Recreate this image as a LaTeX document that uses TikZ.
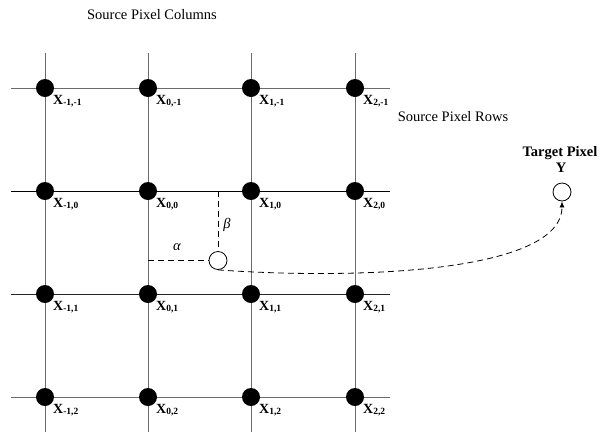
\documentclass[tikz,border=0pt]{standalone}
\usepackage{fontspec}
\setmainfont{Liberation Serif}
\usetikzlibrary{arrows.meta}
\begin{document}
\begin{tikzpicture}[x=1pt,y=-1pt,
  dot/.style={circle,fill=black,minimum size=18pt,inner sep=0pt},
  hole/.style={circle,draw=black,fill=white,minimum size=18pt,inner sep=0pt,line width=0.8pt},
  gridv/.style={draw=black!58,line width=1pt},
  gridh/.style={line width=1pt},
  dsh/.style={draw=black,line width=0.8pt,dash pattern=on 6pt off 4pt},
  lab/.style={inner sep=0pt,anchor=base west,font=\fontsize{14}{14}\selectfont\bfseries},
  txt/.style={inner sep=0pt,font=\fontsize{14.5}{16}\selectfont},
  btxt/.style={inner sep=0pt,font=\fontsize{14.5}{16}\selectfont\bfseries}]
\useasboundingbox (0,0) rectangle (600,432);
% grid lines
\foreach \x in {45,148,251,355}
  \draw[gridv] (\x,53) -- (\x,432);
\foreach \y/\c in {88/black!58,191/black,294/black!85,397/black!58}
  \draw[gridh,draw=\c] (11,\y) -- (390,\y);
% source pixels
\foreach \i/\x in {-1/45,0/148,1/251,2/355}
  \foreach \j/\y in {-1/88,0/191,1/294,2/397} {
    \node[dot] (d\i\j) at (\x,\y) {};
    \node[lab] (l\i\j) at (\x+8,\y+16) {X\raisebox{-1.5pt}{\fontsize{9.5}{10}\selectfont\bfseries \i,\j}};
  }
% interpolated pixel
\node[hole] (P) at (218,260.5) {};
\coordinate (h0) at (148,260.5);
\coordinate (v0) at (218,191);
\draw[dsh] (h0) -- (P.west);
\draw[dsh] (v0) -- (P.north);
\node[txt] (beta) at (227,225) {\itshape β};
\node[txt] (alpha) at (177,247) {\itshape α};
% target pixel
\node[hole] (T) at (562,192) {};
\node[btxt] (tp) at (560,153) {Target Pixel};
\node[btxt] (ty) at (561,168) {Y};
\draw[dsh,-{Latex[length=6pt,width=5pt]}] (P.south) .. controls (360,280) and (562,272) .. (T.south);
% titles
\node[txt] (cols) at (152,15) {Source Pixel Columns};
\node[txt] (rows) at (453,117) {Source Pixel Rows};
\end{tikzpicture}
\end{document}
